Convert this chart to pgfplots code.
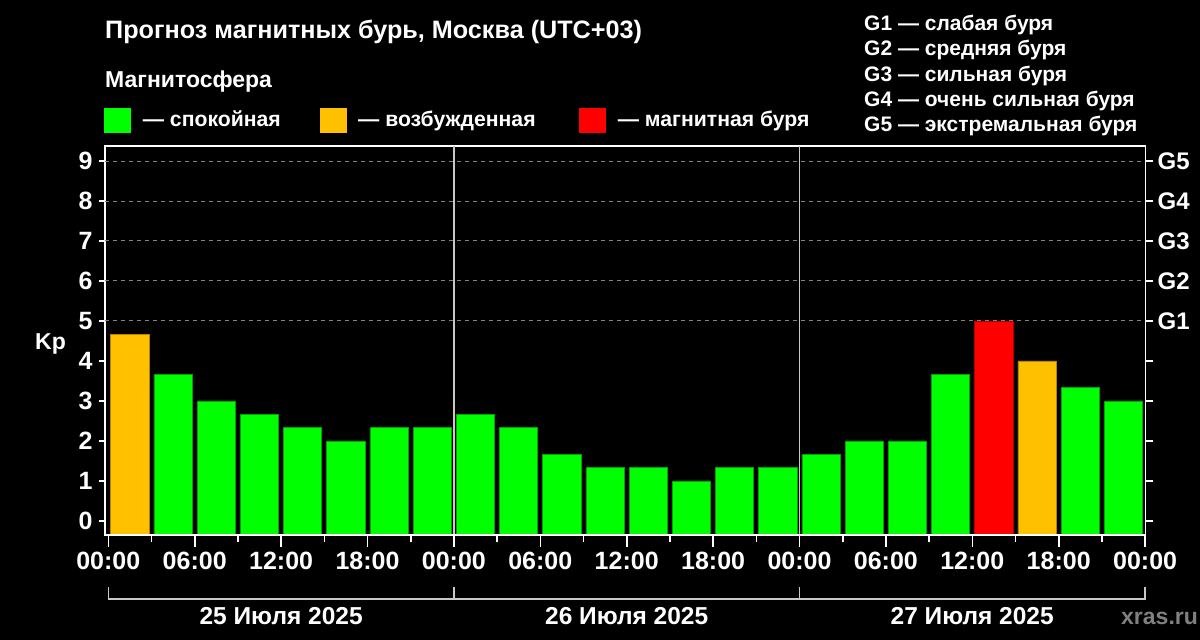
\documentclass[border=0pt]{standalone}
\usepackage{pgfplots}
\pgfplotsset{compat=1.18}
\usepackage{fontspec}
\setmainfont{Liberation Sans}
\definecolor{kpgreen}{HTML}{00FF00}
\definecolor{kporange}{HTML}{FFC000}
\definecolor{kpred}{HTML}{FF0000}
\definecolor{gridgray}{HTML}{808080}
\definecolor{sepgray}{HTML}{C8C8C8}
\newcommand\fs[1]{\fontsize{#1}{#1}\selectfont\bfseries}
\pgfplotsset{
  kpframe/.style={
    at={(105pt,105pt)}, anchor=south west,
    scale only axis, width=1040.7pt, height=389pt,
    xmin=-0.23, xmax=72.04,
    axis line style={white, line width=1.6pt},
    every tick/.style={white, line width=1.6pt},
    tick align=outside,
  },
}
\begin{document}
\begin{tikzpicture}[x=1pt,y=1pt]
\fill[black] (0,0) rectangle (1200,640);
% bars, frame, left ticks
\begin{axis}[
  kpframe,
  ymin=-0.35, ymax=9.375,
  y coord trafo/.code={\pgfmathparse{#1+0.35}},
  y coord inv trafo/.code={\pgfmathparse{#1-0.35}},
  ybar, bar width=2.66,
  xtick=\empty, ytick pos=left,
  major tick length=6pt,
  ytick={0,...,9},
  yticklabels={0,1,2,3,4,5,6,7,8,9},
  ticklabel style={white, font=\fs{25}},
  yticklabel style={xshift=-3pt},
  extra y ticks={5,6,7,8,9},
  extra y tick labels={},
  extra y tick style={grid=major, major grid style={gridgray, dash pattern=on 4pt off 4pt, line width=1pt}},
  extra x ticks={24,48},
  extra x tick labels={},
  extra x tick style={grid=major, major grid style={sepgray, line width=1.5pt}, tick style={draw=none}},
  clip=false,
]
\addplot[bar shift=0pt, fill=kpgreen, draw=kpgreen!65!black, line width=0.8pt] coordinates {
  (4.5,3.67) (7.5,3) (10.5,2.67) (13.5,2.33) (16.5,2) (19.5,2.33) (22.5,2.33)
  (25.5,2.67) (28.5,2.33) (31.5,1.67) (34.5,1.33) (37.5,1.33) (40.5,1) (43.5,1.33) (46.5,1.33)
  (49.5,1.67) (52.5,2) (55.5,2) (58.5,3.67) (67.5,3.33) (70.5,3)
};
\addplot[bar shift=0pt, fill=kporange, draw=kporange!70!black, line width=0.8pt] coordinates {
  (1.5,4.67) (64.5,4)
};
\addplot[bar shift=0pt, fill=kpred, draw=kpred!70!black, line width=0.8pt] coordinates {
  (61.5,5)
};
\end{axis}
% right storm scale
\begin{axis}[
  kpframe,
  ymin=-0.35, ymax=9.375,
  axis x line=none, axis y line*=right,
  major tick length=7pt,
  ytick={0,...,9},
  yticklabels={,,,,,G1,G2,G3,G4,G5},
  ticklabel style={white, font=\fs{24}},
  yticklabel style={xshift=1.5pt},
]
\addplot[draw=none] coordinates {(0,0)};
\end{axis}
% time axis
\begin{axis}[
  kpframe,
  ymin=0, ymax=1,
  axis y line=none, axis x line*=bottom,
  xtick={0,6,...,72},
  xticklabels={00:00,06:00,12:00,18:00,00:00,06:00,12:00,18:00,00:00,06:00,12:00,18:00,00:00},
  minor x tick num=1,
  major tick length=12pt, minor tick length=7pt,
  ticklabel style={white, font=\fs{25}},
  xticklabel style={yshift=-2pt},
]
\addplot[draw=none] coordinates {(0,0)};
\end{axis}
% titles and legend
\node[anchor=base west, white, inner sep=0] at (105,601.5) {\fs{25.2}Прогноз магнитных бурь, Москва (UTC+03)};
\node[anchor=base west, white, inner sep=0] at (105,552) {\fs{23}Магнитосфера};
\fill[kpgreen] (104,506.7) rectangle (130.7,532.3);
\fill[kporange] (320,506.7) rectangle (346.7,532.3);
\fill[kpred] (579,506.7) rectangle (605.7,532.3);
\node[anchor=base west, white, inner sep=0] at (142.7,513.3) {\fs{21.2}— спокойная};
\node[anchor=base west, white, inner sep=0] at (358,513.3) {\fs{21.2}— возбужденная};
\node[anchor=base west, white, inner sep=0] at (617.7,513.3) {\fs{21.2}— магнитная буря};
\node[anchor=base west, white, inner sep=0] at (864,609.3) {\fs{21}G1 — слабая буря};
\node[anchor=base west, white, inner sep=0] at (864,584) {\fs{21}G2 — средняя буря};
\node[anchor=base west, white, inner sep=0] at (864,558.7) {\fs{21}G3 — сильная буря};
\node[anchor=base west, white, inner sep=0] at (864,533.3) {\fs{21}G4 — очень сильная буря};
\node[anchor=base west, white, inner sep=0] at (864,508.3) {\fs{21}G5 — экстремальная буря};
\node[anchor=base west, white, inner sep=0] at (35,290) {\fs{23}Kp};
% date bracket
\draw[sepgray, line width=1.5pt] (108.3,53) -- (108.3,41) -- (1145,41) -- (1145,53);
\draw[sepgray, line width=1.5pt] (453.9,53) -- (453.9,41);
\draw[sepgray, line width=1.5pt] (799.5,53) -- (799.5,41);
\node[anchor=base, white, inner sep=0] at (281.1,15) {\fs{24.5}25 Июля 2025};
\node[anchor=base, white, inner sep=0] at (626.7,15) {\fs{24.5}26 Июля 2025};
\node[anchor=base, white, inner sep=0] at (972.2,15) {\fs{24.5}27 Июля 2025};
\node[anchor=base west, gridgray, inner sep=0] at (1121,15) {\fs{23}xras.ru};
\pgfresetboundingbox
\path (0,0) rectangle (1200,640);
\end{tikzpicture}
\end{document}
